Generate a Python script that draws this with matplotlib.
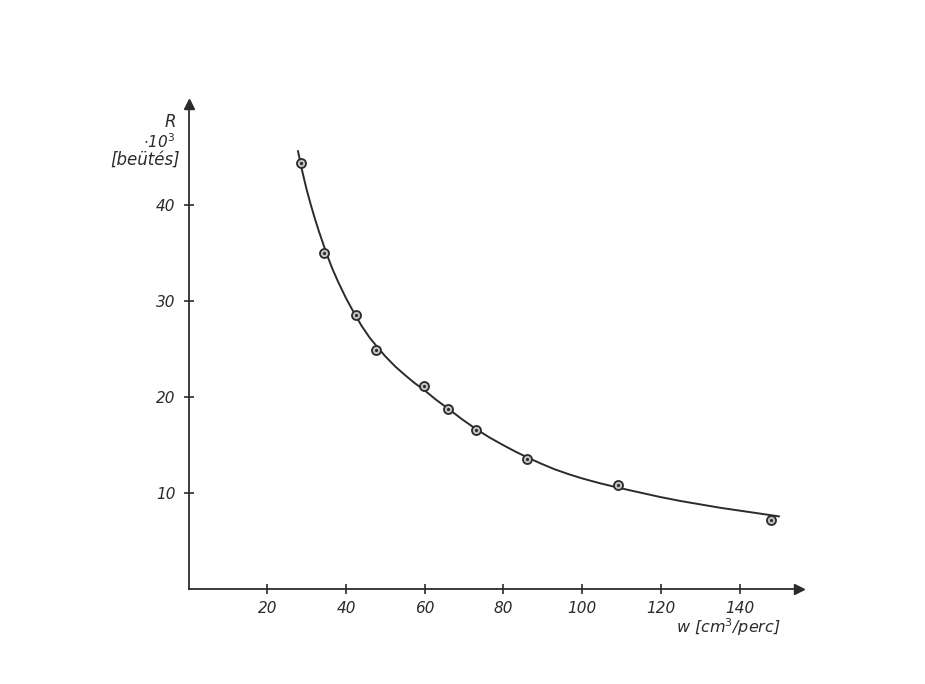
import matplotlib.pyplot as plt

# mért pontok
w_pts = [28.6, 34.5, 42.5, 47.5, 59.8, 65.8, 73.0, 85.9, 109.0, 148.0]
r_pts = [44.4, 35.0, 28.6, 24.9, 21.2, 18.8, 16.6, 13.6, 10.9, 7.2]

# kézzel húzott görbe leolvasva
w_curve = [27.8, 29, 30, 31, 32, 33, 34, 35, 36.5, 38, 40, 42, 44, 46, 48, 50,
           52.5, 55, 57.5, 60, 63, 66, 69.5, 73, 76.5, 80, 83, 86, 89.5, 93,
           96.5, 100, 104.5, 109, 114.5, 120, 125, 130, 135, 140, 145, 150]
r_curve = [45.6, 43.3, 41.6, 40.1, 38.7, 37.4, 36.2, 35.0, 33.4, 32.0, 30.3,
           28.8, 27.4, 26.2, 25.2, 24.25, 23.2, 22.3, 21.45, 20.7, 19.7, 18.8,
           17.7, 16.7, 15.8, 15.0, 14.35, 13.75, 13.1, 12.5, 12.0, 11.55, 11.05,
           10.6, 10.1, 9.6, 9.2, 8.85, 8.5, 8.2, 7.9, 7.6]

x_ticks = [20, 40, 60, 80, 100, 120, 140]
y_ticks = [10, 20, 30, 40]

ink = '#2b2b2b'
plt.rcParams['font.family'] = ['DejaVu Sans']

fig = plt.figure(figsize=(9.25, 6.84), dpi=100)
ax = fig.add_axes([0.2039, 0.1383, 0.6594, 0.7095])

ax.plot(w_curve, r_curve, color=ink, lw=1.4)
ax.plot(w_pts, r_pts, 'o', ms=6.5, mfc='#c4c4c4', mec=ink, mew=1.3)
ax.plot(w_pts, r_pts, '.', ms=2.5, color=ink)

ax.set_xlim(0, 155)
ax.set_ylim(0, 50.5)
ax.set_xticks(x_ticks)
ax.set_yticks(y_ticks)
ax.spines['top'].set_visible(False)
ax.spines['right'].set_visible(False)
for s in ['left', 'bottom']:
    ax.spines[s].set_color(ink)
    ax.spines[s].set_linewidth(1.3)
ax.tick_params(direction='inout', length=7, width=1.2, color=ink,
               labelcolor=ink, labelsize=11)
ax.tick_params(axis='x', pad=5)
ax.tick_params(axis='y', pad=6)
for lab in ax.get_xticklabels() + ax.get_yticklabels():
    lab.set_fontstyle('italic')

# nyilak
ax.plot(1, 0, '>', transform=ax.transAxes, clip_on=False, color=ink, ms=7)
ax.plot(0, 1, '^', transform=ax.transAxes, clip_on=False, color=ink, ms=7)

fig.text(0.184, 0.822, 'R', fontsize=12, style='italic', color=ink,
         ha='center', va='center')
fig.text(0.172, 0.793, r'$\cdot$10$^3$', fontsize=11, style='italic', color=ink,
         ha='center', va='center')
fig.text(0.157, 0.766, '[beütés]', fontsize=12, style='italic', color=ink,
         ha='center', va='center')
fig.text(0.731, 0.083, 'w [cm$^3$/perc]', fontsize=11.5, style='italic', color=ink,
         ha='left', va='center')

fig.savefig('out.png', dpi=100, facecolor='white')
